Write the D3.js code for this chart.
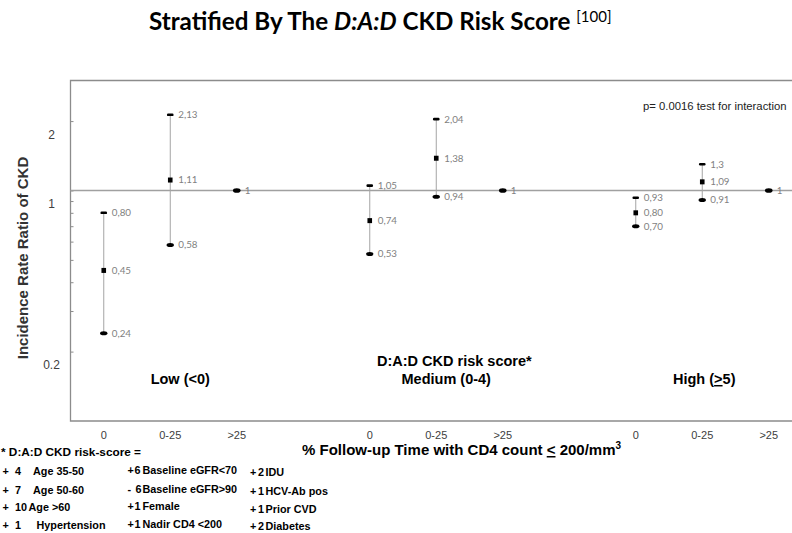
<!DOCTYPE html>
<html>
<head>
<meta charset="utf-8">
<script src="https://cdn.jsdelivr.net/npm/d3@7/dist/d3.min.js"></script>
<style>
  body { margin: 0; background: #fff; }
  svg { display: block; }
</style>
</head>
<body>
<svg id="chart" width="792" height="533"></svg>
<script>
// Risk-score strata and CD4 exposure categories
const riskGroups = ["Low", "Medium", "High"];
const cd4Levels = ["0", "0-25", ">25"];

// Incidence rate ratios (point estimate, lower and upper 95% CI) per CD4 category
const lowEstimate = ["0.45", "1.11", "1"];
const lowLower    = ["0.24", "0.58", null];
const lowUpper    = ["0.80", "2.13", null];

const mediumEstimate = ["0.74", "1.38", "1"];
const mediumLower    = ["0.53", "0.94", null];
const mediumUpper    = ["1.05", "2.04", null];

const highEstimate = ["0.80", "1.09", "1"];
const highLower    = ["0.70", "0.91", null];
const highUpper    = ["0.93", "1.3", null];

// Axis ticks
const yMinorTicks = [2, 1, 0.9, 0.8, 0.7, 0.6, 0.5, 0.4, 0.3, 0.2];
const yTickLabels = [2, 1, 0.2];

// Footnote: risk-score points
const col1Signs = ["+", "+", "+", "+"];
const col1Points = ["4", "7", "10", "1"];
const col1Items = ["Age 35-50", "Age 50-60", "Age >60", "Hypertension"];
const col2Signs = ["+", "-", "+", "+"];
const col2Points = ["6", "6", "1", "1"];
const col2Items = ["Baseline eGFR<70", "Baseline eGFR>90", "Female", "Nadir CD4 <200"];
const col3Signs = ["+", "+", "+", "+"];
const col3Points = ["2", "1", "1", "2"];
const col3Items = ["IDU", "HCV-Ab pos", "Prior CVD", "Diabetes"];

const estimateByGroup = [lowEstimate, mediumEstimate, highEstimate];
const lowerByGroup = [lowLower, mediumLower, highLower];
const upperByGroup = [lowUpper, mediumUpper, highUpper];

const rows = [];
riskGroups.forEach((g, gi) => {
  cd4Levels.forEach((c, ci) => {
    rows.push({
      group: g, level: c,
      est: estimateByGroup[gi][ci],
      lo: lowerByGroup[gi][ci],
      hi: upperByGroup[gi][ci]
    });
  });
});

const W = 792, H = 533;
const plot = { left: 70.5, top: 80.5, bottom: 421, right: 868.5 };
const sans = "'Liberation Sans', Arial, sans-serif";
const label = s => s.replace(".", ",");

const svg = d3.select("#chart");

// Scales
const y = d3.scaleLog().domain([0.1, 3]).range([plot.bottom, plot.top]);
const gx = d3.scaleBand().domain(riskGroups).range([plot.left, plot.right]);
const slot = d3.scaleBand().domain([...cd4Levels, "gap"]).range([0, gx.bandwidth()]);
const x = (g, c) => gx(g) + slot(c) + slot.bandwidth() / 2;

// Title
const title = svg.append("text")
  .attr("x", 149).attr("y", 29.5)
  .attr("font-family", "Lato, 'Open Sans', sans-serif")
  .attr("font-weight", 700).attr("font-size", 24.2).attr("fill", "#000");
title.append("tspan").text("Stratified By The ");
title.append("tspan").attr("font-style", "italic").text("D:A:D");
title.append("tspan").text(" CKD Risk Score ");
title.append("tspan").attr("font-weight", 400).attr("font-size", 15).attr("dy", -8).text("[100]");

// Plot frame (left, top, bottom)
svg.append("path")
  .attr("d", `M${W + 5},${plot.top}H${plot.left}V${plot.bottom}H${W + 5}`)
  .attr("fill", "none").attr("stroke", "#8c8c8c").attr("stroke-width", 1.3);

// Inward log ticks on the y axis
const yAxis = svg.append("g")
  .attr("transform", `translate(${plot.left},0)`)
  .call(d3.axisLeft(y).tickValues(yMinorTicks).tickSize(-3).tickFormat(""));
yAxis.select(".domain").remove();
yAxis.selectAll(".tick line").attr("stroke", "#8c8c8c");

svg.append("g").selectAll("text").data(yTickLabels).join("text")
  .attr("x", 51.5).attr("y", d => y(d) + 13.5).attr("dy", "0.35em")
  .attr("text-anchor", "middle")
  .attr("font-family", sans).attr("font-size", 12).attr("fill", "#404040")
  .text(d => d3.format("~g")(d));

// Reference line at IRR = 1
svg.append("line")
  .attr("x1", plot.left).attr("x2", W)
  .attr("y1", y(1)).attr("y2", y(1))
  .attr("stroke", "#a0a0a0").attr("stroke-width", 1.5);

// Confidence interval whiskers
const ci = rows.filter(d => d.lo !== null);
svg.append("g").selectAll("line").data(ci).join("line")
  .attr("x1", d => x(d.group, d.level)).attr("x2", d => x(d.group, d.level))
  .attr("y1", d => y(+d.hi)).attr("y2", d => y(+d.lo))
  .attr("stroke", "#a4a4a4").attr("stroke-width", 1);

// Upper bound caps
svg.append("g").selectAll("rect").data(ci).join("rect")
  .attr("x", d => x(d.group, d.level) - 3.3).attr("y", d => y(+d.hi) - 1.3)
  .attr("width", 6.6).attr("height", 2.6).attr("rx", 1.2)
  .attr("fill", "#000");

// Lower bound caps
svg.append("g").selectAll("ellipse").data(ci).join("ellipse")
  .attr("cx", d => x(d.group, d.level)).attr("cy", d => y(+d.lo))
  .attr("rx", 3.7).attr("ry", 2).attr("fill", "#000");

// Point estimates
svg.append("g").selectAll("rect").data(ci).join("rect")
  .attr("x", d => x(d.group, d.level) - 2.3).attr("y", d => y(+d.est) - 2.5)
  .attr("width", 4.6).attr("height", 5).attr("fill", "#000");

// Reference category markers
svg.append("g").selectAll("ellipse").data(rows.filter(d => d.lo === null)).join("ellipse")
  .attr("cx", d => x(d.group, d.level)).attr("cy", d => y(+d.est))
  .attr("rx", 3.8).attr("ry", 2.3).attr("fill", "#000");

// Value labels
const valueLabels = [];
rows.forEach(d => {
  valueLabels.push({ d, v: d.est });
  if (d.lo !== null) { valueLabels.push({ d, v: d.lo }); valueLabels.push({ d, v: d.hi }); }
});
svg.append("g").selectAll("text").data(valueLabels).join("text")
  .attr("x", e => x(e.d.group, e.d.level) + 8).attr("y", e => y(+e.v)).attr("dy", "0.35em")
  .attr("font-family", "Lato, 'Open Sans', sans-serif").attr("font-size", 9.8)
  .attr("fill", "#7f7f7f")
  .text(e => label(e.v));

// p-value annotation
svg.append("text")
  .attr("x", 643).attr("y", 109.5)
  .attr("font-family", sans).attr("font-size", 11.3).attr("fill", "#222")
  .text("p= 0.0016 test for interaction");

// Risk group labels
const bold = sel => sel.attr("font-family", sans).attr("font-weight", 700).attr("fill", "#000");
svg.append("text").call(bold)
  .attr("x", 377).attr("y", 366).attr("font-size", 14.5)
  .text("D:A:D CKD risk score*");
const groupText = svg.append("g").selectAll("text").data(riskGroups).join("text").call(bold)
  .attr("x", (g, i) => x(g, "0-25") + [10, 10, 2][i]).attr("y", 384)
  .attr("text-anchor", "middle").attr("font-size", 14.5);
groupText.each(function (g) {
  const t = d3.select(this);
  if (g === "Low") t.text("Low (<0)");
  if (g === "Medium") t.text("Medium (0-4)");
  if (g === "High") {
    t.append("tspan").text("High (");
    t.append("tspan").attr("text-decoration", "underline").text(">");
    t.append("tspan").text("5)");
  }
});

// X tick labels
svg.append("g").selectAll("text").data(rows).join("text")
  .attr("x", d => x(d.group, d.level)).attr("y", 439)
  .attr("text-anchor", "middle")
  .attr("font-family", sans).attr("font-size", 11).attr("fill", "#404040")
  .text(d => d.level);

// X axis title
const xTitle = svg.append("text").call(bold)
  .attr("x", 302).attr("y", 455).attr("font-size", 15);
xTitle.append("tspan").text("% Follow-up Time with CD4 count ");
xTitle.append("tspan").attr("text-decoration", "underline").text("<");
xTitle.append("tspan").text(" 200/mm");
xTitle.append("tspan").attr("font-size", 10).attr("dy", -6).text("3");

// Y axis title
svg.append("text").call(bold)
  .attr("transform", "translate(22.7,258) rotate(-90)")
  .attr("dy", "0.35em").attr("text-anchor", "middle")
  .attr("font-size", 15).attr("fill", "#333")
  .text("Incidence Rate Ratio of CKD");

// Footnote
const foot = svg.append("g").attr("font-family", sans).attr("font-weight", 700)
  .attr("font-size", 10.8).attr("fill", "#000");
foot.append("text").attr("x", 1).attr("y", 456).attr("font-size", 11.8).text("* D:A:D CKD risk-score =");

const columns = [
  { signs: col1Signs, points: col1Points, items: col1Items, sx: 2.5, px: 15, wx: [33, 33, 28.5, 36.5], ys: [475, 494, 511, 529] },
  { signs: col2Signs, points: col2Points, items: col2Items, sx: 127.5, px: [134.5, 135.5, 134.5, 134.5], wx: 142.5, ys: [473.5, 493, 509.5, 527.5] },
  { signs: col3Signs, points: col3Points, items: col3Items, sx: 250, px: 258, wx: 265.5, ys: [476, 495, 512.5, 530] }
];
const pick = (v, i) => Array.isArray(v) ? v[i] : v;
columns.forEach(col => {
  col.items.forEach((item, i) => {
    const yy = col.ys[i];
    foot.append("text").attr("x", col.sx).attr("y", yy).text(col.signs[i]);
    foot.append("text").attr("x", pick(col.px, i)).attr("y", yy).text(col.points[i]);
    foot.append("text").attr("x", pick(col.wx, i)).attr("y", yy).text(item);
  });
});
</script>
</body>
</html>
